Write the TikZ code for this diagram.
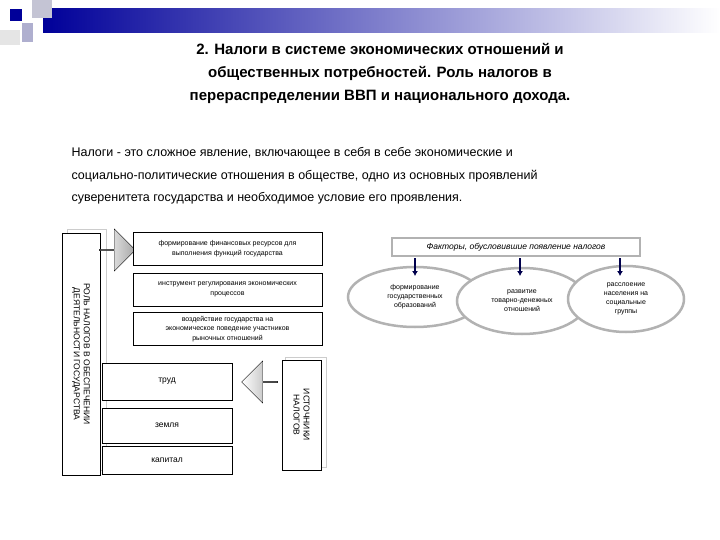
\documentclass[tikz,border=0pt]{standalone}
\usepackage{fontspec}
\setmainfont{Liberation Sans}
\usetikzlibrary{shapes.arrows,shapes.geometric,arrows.meta}
\begin{document}
\begin{tikzpicture}[x=1pt,y=-1pt,
 bx/.style={draw,line width=0.8pt,fill=white,align=center,font=\fontsize{7}{9.5}\selectfont},
 el/.style={draw=gray!60,line width=2.5pt,fill=white,ellipse,align=center,inner sep=0pt,font=\fontsize{7}{9}\selectfont},
 dn/.style={-{Latex[length=5pt,width=6pt]},line width=2.2pt,draw=black!70!blue},
 barr/.style={single arrow,draw,minimum height=36pt,minimum width=42pt,single arrow head extend=7pt,inner sep=0pt}]
\useasboundingbox (0,0) rectangle (720,540);
\fill[white] (0,0) rectangle (720,540);
% decoration
\shade[left color=blue!60!black,right color=white] (43,9) rectangle (720,33);
\fill[blue!15!gray!40] (32,0) rectangle (52,18);
\fill[blue!25!gray!50] (22,23) rectangle (33,42);
\fill[blue!60!black] (10,9) rectangle (22,21);
\fill[gray!20] (0,30) rectangle (20,45);
% title
\node[font=\bfseries\fontsize{15}{23}\selectfont,align=center] (title) at (380,73) {2. Налоги в системе экономических отношений и\\общественных потребностей. Роль налогов в\\перераспределении ВВП и национального дохода.};
\node[font=\fontsize{12.5}{22.5}\selectfont,align=left,anchor=north west] (para) at (68,144) {Налоги - это сложное явление, включающее в себя в себе экономические и\\социально-политические отношения в обществе, одно из основных проявлений\\суверенитета государства и необходимое условие его проявления.};
% left column
\draw[gray!40,line width=1pt] (67,230) rectangle (106,470);
\draw[line width=0.8pt,fill=white] (62,233) rectangle (100,475);
\node[rotate=-90,align=center,font=\fontsize{8.5}{10}\selectfont] (role) at (81,354) {РОЛЬ НАЛОГОВ В ОБЕСПЕЧЕНИИ\\ДЕЯТЕЛЬНОСТИ ГОСУДАРСТВА};
\node[barr,left color=white,right color=gray!70] (a1) at (117,250) {};
\node[bx,minimum width=189pt,minimum height=33pt] (b1) at (227.5,248.5) {формирование финансовых ресурсов для\\выполнения  функций государства};
\node[bx,minimum width=189pt,minimum height=33pt] (b2) at (227.5,289.5) {инструмент регулирования экономических\\процессов};
\node[bx,minimum width=189pt,minimum height=28pt] (b3) at (227.5,329) {воздействие государства на\\экономическое поведение участников\\рыночных отношений};
\node[bx,minimum width=130pt,minimum height=37pt,font=\fontsize{8.5}{9}\selectfont] (t) at (167,381.5) {труд};
\node[bx,minimum width=130pt,minimum height=35pt,font=\fontsize{8.5}{9}\selectfont] (z) at (167,425.5) {земля};
\node[bx,minimum width=130pt,minimum height=28pt,font=\fontsize{8.5}{9}\selectfont] (k) at (167,460) {капитал};
\draw[gray!40,line width=1pt] (285,357) rectangle (326,467);
\node[bx,minimum width=39pt,minimum height=110pt] (src) at (301.5,415) {};
\node[rotate=-90,align=center,font=\fontsize{8.5}{10}\selectfont] (srct) at (301.5,415) {ИСТОЧНИКИ\\НАЛОГОВ};
\node[barr,shape border rotate=180,left color=white,right color=gray!70] (a2) at (260,382) {};
% factors
\draw[gray!60,line width=2.5pt] (392,238) rectangle (640,256);
\node[font=\itshape\fontsize{8.5}{9}\selectfont] (f) at (516,247) {Факторы, обусловившие появление налогов};
\node[el,minimum width=134pt,minimum height=60pt] (e1) at (415,297) {формирование\\государственных\\образований};
\node[el,minimum width=130pt,minimum height=66pt] (e2) at (522,301) {развитие\\товарно-денежных\\отношений};
\node[el,minimum width=116pt,minimum height=66pt] (e3) at (626,299) {расслоение\\населения на\\социальные\\группы};
\coordinate (d1) at (415,258); \coordinate (d2) at (520,258); \coordinate (d3) at (620,258);
\draw[dn] (d1) -- (415,276);
\draw[dn] (d2) -- (520,276);
\draw[dn] (d3) -- (620,276);
\end{tikzpicture}
\end{document}
